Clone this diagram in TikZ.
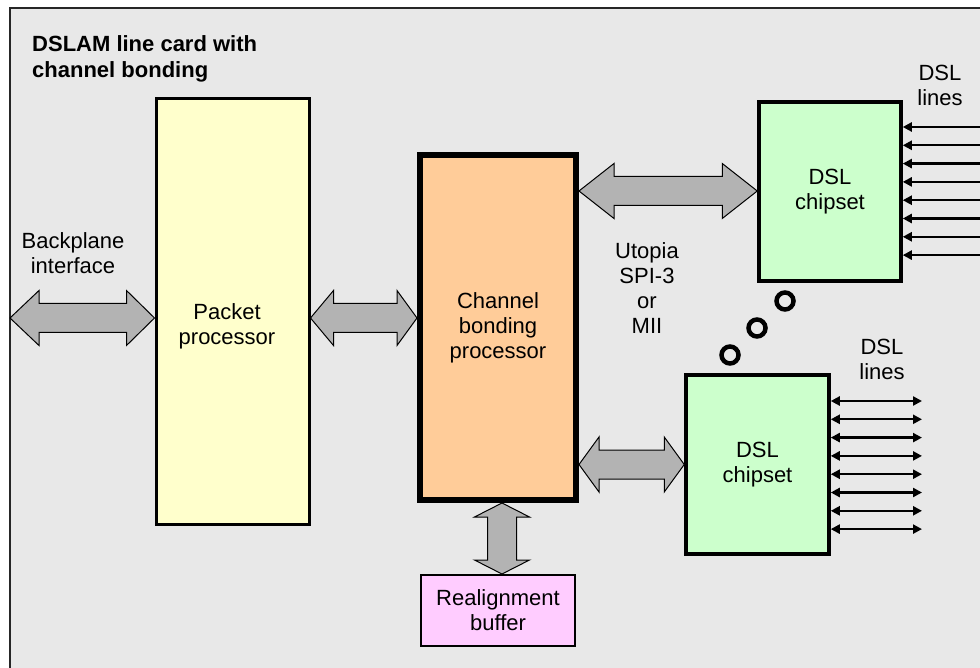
\documentclass[tikz,border=0pt]{standalone}
\usepackage{fontspec}
\setmainfont{Liberation Sans}
\usetikzlibrary{arrows.meta,calc}
\definecolor{bgc}{HTML}{E8E8E8}
\definecolor{ppc}{HTML}{FFFFCC}
\definecolor{cbc}{HTML}{FFCC99}
\definecolor{bfc}{HTML}{FFCCFF}
\definecolor{dsc}{HTML}{CCFFCC}
\definecolor{arc}{HTML}{B3B3B3}
\newcommand\hbarrow[4]{%
  \draw[barrow] let \p1=(#1), \p2=(#2) in
   (\x1,\y1) -- (\x1+#3pt,\y1+27.5pt) -- (\x1+#3pt,\y1+14.5pt) -- (\x2-#4pt,\y1+14.5pt)
   -- (\x2-#4pt,\y1+27.5pt) -- (\x2,\y1) -- (\x2-#4pt,\y1-27.5pt) -- (\x2-#4pt,\y1-14.5pt)
   -- (\x1+#3pt,\y1-14.5pt) -- (\x1+#3pt,\y1-27.5pt) -- cycle;}
\newcommand\vbarrow[3]{%
  \draw[barrow] let \p1=(#1), \p2=(#2) in
   (\x1,\y1) -- (\x1+27.5pt,\y1-#3pt) -- (\x1+14.5pt,\y1-#3pt) -- (\x1+14.5pt,\y2+#3pt)
   -- (\x1+27.5pt,\y2+#3pt) -- (\x1,\y2) -- (\x1-27.5pt,\y2+#3pt) -- (\x1-14.5pt,\y2+#3pt)
   -- (\x1-14.5pt,\y1-#3pt) -- (\x1-27.5pt,\y1-#3pt) -- cycle;}
\tikzset{dtip/.tip={Triangle[length=9pt,width=9pt]}}
\begin{document}
\begin{tikzpicture}[x=1pt,y=1pt,
  every node/.style={font=\fontsize{22}{25}\selectfont, align=center, inner sep=0pt, text=black},
  blk/.style={draw=black, rectangle},
  barrow/.style={draw=black, fill=arc, line width=1pt, line join=miter},
  dslline/.style={line width=2.3pt, draw=black},
  dot/.style={circle, draw=black, line width=4.5pt, minimum size=17pt}]
\useasboundingbox (0,0) rectangle (980,-668);
\fill[white] (0,0) rectangle (980,-668);
\fill[bgc] (10,-8) rectangle (980,-668);
\draw[line width=2pt, draw=black!85] (10,-668) -- (10,-8) -- (980,-8);

% title
\node[anchor=west, align=left, font=\fontsize{22}{26}\selectfont\bfseries] (title) at (32,-58.5) {DSLAM line card with\\channel bonding};

% boxes
\node[blk, fill=ppc, line width=3pt, minimum width=153pt, minimum height=425pt] (pp) at (232.5,-311.5) {};
\node (ppl) at (227,-326.5) {Packet\\processor};
\node[blk, fill=cbc, line width=6pt, minimum width=156pt, minimum height=345pt] (cb) at (498,-327.5) {Channel\\bonding\\processor};
\node[blk, fill=bfc, line width=2pt, minimum width=154pt, minimum height=71pt] (buf) at (498,-610.5) {Realignment\\buffer};
\node[blk, fill=dsc, line width=3.5pt, minimum width=142pt, minimum height=179pt] (dsl1) at (830,-191.5) {DSL\\chipset};
\node[blk, fill=dsc, line width=3.5pt, minimum width=143pt, minimum height=179pt] (dsl2) at (757.5,-464.5) {DSL\\chipset};

% labels
\node (bpl) at (73,-253) {Backplane\\interface};
\node (utl) at (647,-288) {Utopia\\SPI-3\\or\\MII};
\node (dl1) at (940,-85) {DSL\\lines};
\node (dl2) at (882,-359.5) {DSL\\lines};

% block arrows
\coordinate (bpL) at (10,-318);
\coordinate (ty) at (0,-191);
\coordinate (by) at (0,-464.5);
\hbarrow{bpL}{pp.west |- bpL}{29}{28}
\hbarrow{pp.east |- bpL}{cb.west |- bpL}{23}{20}
\hbarrow{cb.east |- ty}{dsl1.west |- ty}{35}{35}
\hbarrow{cb.east |- by}{dsl2.west |- by}{20}{20}
\vbarrow{$(cb.south)+(4,0)$}{$(buf.north)+(4,0)$}{14}

% DSL lines
\foreach \i in {0,...,7}{
  \coordinate (tl\i) at (980,{-127-18.3*\i});
  \draw[dslline, -{dtip}] (tl\i) -- (dsl1.east |- tl\i);
  \coordinate (bl\i) at (922,{-401-18.3*\i});
  \draw[dslline, {dtip}-{dtip}] (dsl2.east |- bl\i) -- (bl\i);
}

% dots
\node[dot] (d1) at (785,-301) {};
\node[dot] (d2) at (757,-328) {};
\node[dot] (d3) at (730,-355) {};
\end{tikzpicture}
\end{document}
